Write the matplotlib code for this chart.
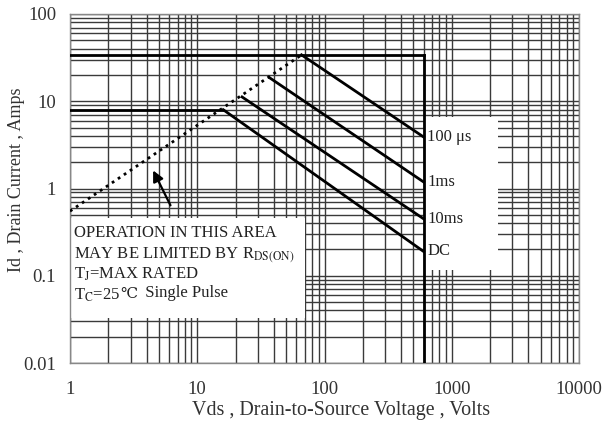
import numpy as np
import matplotlib.pyplot as plt
from matplotlib.patches import Rectangle
from matplotlib.ticker import FixedLocator, FixedFormatter, NullFormatter, LogLocator

plt.rcParams['font.family'] = ['Liberation Serif', 'DejaVu Serif']
plt.rcParams['mathtext.fontset'] = 'stix'

# Safe operating area
pulse_labels = ['100 \u03bcs', '1ms', '10ms', 'DC']
v_start = [66, 37, 22.5, 16]
i_start = [34, 18.6, 11.2, 8]
v_end = [600, 600, 600, 600]
i_end = [3.9, 1.19, 0.45, 0.19]

# Rds(on) limit (dotted)
v_rds = [1, 66]
i_rds = [0.55, 34]

# current limits
i_pulse_max = 34
i_dc_max = 8
v_max = 600

x_ticks = [1, 10, 100, 1000, 10000]
x_ticklabels = ['1', '10', '100', '1000', '10000']
y_ticks = [0.01, 0.1, 1, 10, 100]
y_ticklabels = ['0.01', '0.1', '1', '10', '100']

fig = plt.figure(figsize=(6.04, 4.26), dpi=100)
ax = fig.add_axes([70/604, 1-363/426, 509/604, 349/426])
ax.set_xscale('log')
ax.set_yscale('log')
ax.set_xlim(1, 10000)
ax.set_ylim(0.01, 100)

ax.xaxis.set_major_locator(FixedLocator(x_ticks))
ax.xaxis.set_major_formatter(FixedFormatter(x_ticklabels))
ax.yaxis.set_major_locator(FixedLocator(y_ticks))
ax.yaxis.set_major_formatter(FixedFormatter(y_ticklabels))
ax.xaxis.set_minor_locator(LogLocator(base=10, subs=np.arange(2, 10), numticks=20))
ax.yaxis.set_minor_locator(LogLocator(base=10, subs=np.arange(2, 10), numticks=20))
ax.xaxis.set_minor_formatter(NullFormatter())
ax.yaxis.set_minor_formatter(NullFormatter())
ax.tick_params(which='both', length=0)
ax.tick_params(axis='x', pad=13, labelsize=13.5, colors='#333333')
ax.tick_params(axis='y', pad=10, labelsize=13.5, colors='#333333')
ax.grid(which='both', color='#3a3a3a', lw=1.0, zorder=0)
ax.set_axisbelow(True)
for s in ax.spines.values():
    s.set_color('#888888')
    s.set_linewidth(1.0)

# white boxes over the grid
ax.add_patch(Rectangle((0.697, 0.266), 0.144, 0.439, transform=ax.transAxes,
                       facecolor='white', edgecolor='none', zorder=1.5))
ax.add_patch(Rectangle((0.0, 0.129), 0.462, 0.286, transform=ax.transAxes,
                       facecolor='white', edgecolor='none', zorder=1.5))

# limit lines
ax.plot([1, v_max], [i_pulse_max, i_pulse_max], color='black', lw=2, zorder=3)
ax.plot([1, v_start[3]], [i_dc_max, i_dc_max], color='black', lw=2, zorder=3)
ax.plot([v_max, v_max], [0.01, i_pulse_max], color='black', lw=2, zorder=3)
ax.plot(v_rds, i_rds, color='black', lw=2, linestyle=(0, (1, 1.6)), zorder=3)

for lab, x0, y0, x1, y1 in zip(pulse_labels, v_start, i_start, v_end, i_end):
    ax.plot([x0, x1], [y0, y1], color='black', lw=2, zorder=3)
    ax.text(640, y1, lab, fontsize=12, va='center', ha='left', color='#222222', zorder=4)

# note
notes = ['OPERATION IN THIS AREA',
         r'MAY BE LIMITED BY R$_{\mathrm{DS(ON)}}$',
         r'T$_{\mathrm{J}}$=MAX RATED',
         r'T$_{\mathrm{C}}$=25']
for k, t in enumerate(notes):
    txt = ax.text(0.008, 0.36 - k * 0.059, t, transform=ax.transAxes, fontsize=12,
                  va='baseline', ha='left', color='#222222', zorder=4)
deg = ax.annotate('\u2103', xy=(1, 0), xycoords=txt, xytext=(-0.5, 2),
                  textcoords='offset points', va='bottom', ha='left', fontsize=11,
                  family=['DejaVu Serif'], color='#222222', zorder=4)
ax.annotate('  Single Pulse', xy=(1, 0), xycoords=deg, va='bottom', ha='left',
            fontsize=12, color='#222222', zorder=4)

ax.annotate('', xy=(4.4, 1.72), xytext=(6.3, 0.6),
            arrowprops=dict(arrowstyle='-|>', color='black', lw=1.6, mutation_scale=16),
            zorder=4)

fig.text(341/604, 1-401/426, 'Vds , Drain-to-Source Voltage , Volts', fontsize=14.4,
         color='#333333', ha='center', va='top')
fig.text(17/604, 1-180/426, 'Id , Drain Current , Amps', fontsize=13, rotation=90,
         color='#333333', ha='center', va='center')

fig.savefig('out.png', dpi=100)
